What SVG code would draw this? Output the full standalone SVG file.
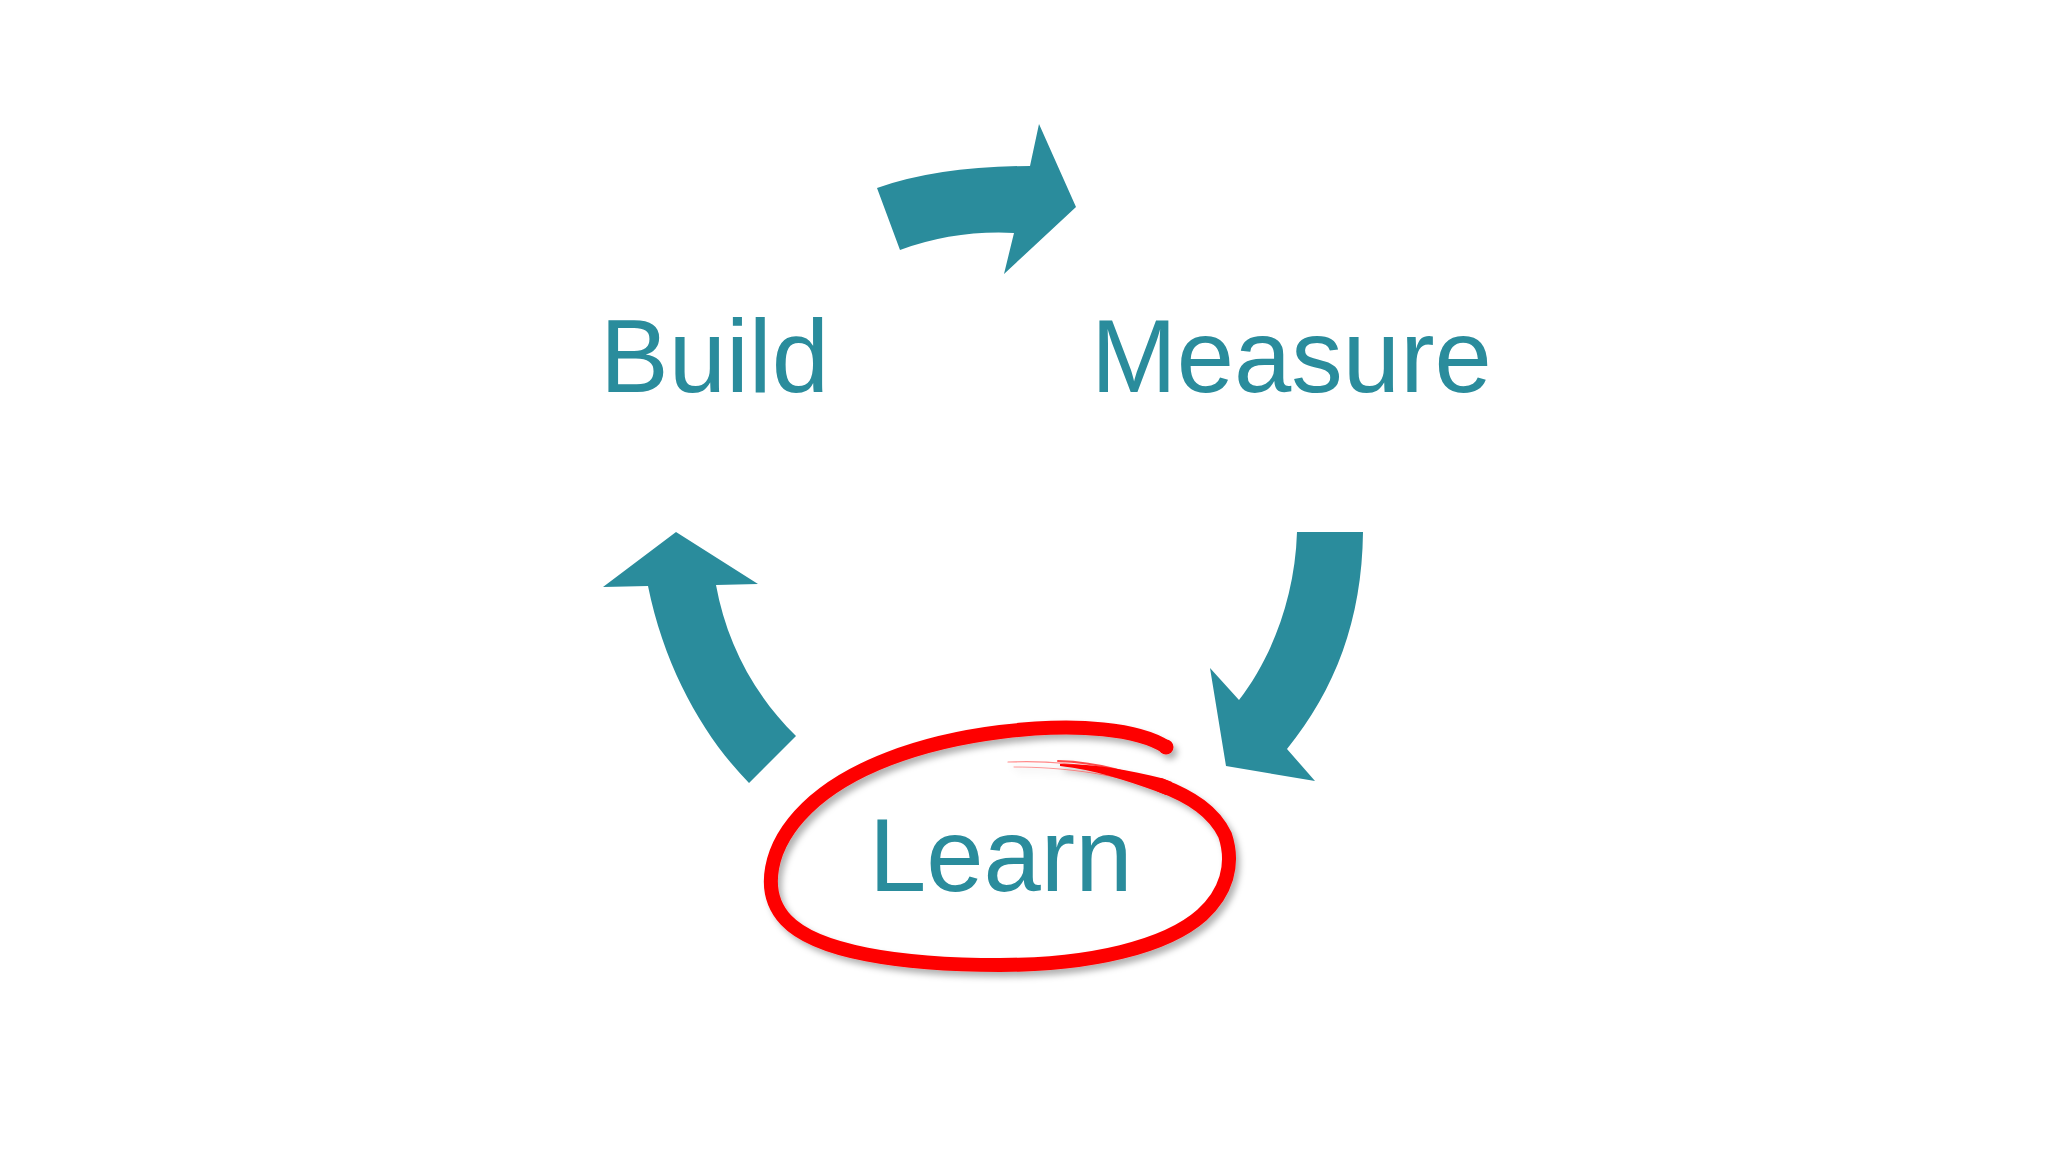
<svg xmlns="http://www.w3.org/2000/svg" width="2048" height="1152" viewBox="0 0 2048 1152">
  <style>
    .label { font-family: "Liberation Sans", Arial, sans-serif; font-size: 103px; fill: #2A8C9C; }
    .arrow { fill: #2A8C9C; stroke: none; }
    .ring { fill: none; stroke: #FE0202; stroke-linecap: round; stroke-linejoin: round; }
    .ink { fill: #FE0202; stroke: none; }
  </style>
  <defs>
    <filter id="shadow" x="-10%" y="-10%" width="120%" height="130%">
      <feDropShadow dx="4" dy="5" stdDeviation="3" flood-color="#000000" flood-opacity="0.3"/>
    </filter>
  </defs>
  <rect width="2048" height="1152" fill="#FFFFFF"/>

  <g id="connectors">
    <path id="arrow-build-measure" class="arrow" d="M 877,188 Q 940,166 1030,166 L 1039,124 L 1076,207 L 1004,274 L 1014,233 Q 955,230 900,250 Z"/>
    <path id="arrow-measure-learn" class="arrow" d="M 1297,532 L 1363,532 C 1362,620 1335,690 1287,749 L 1315,781 L 1226,766 L 1210,668 L 1239,700 C 1270,660 1295,600 1297,532 Z"/>
    <path id="arrow-learn-build" class="arrow" d="M 676,532 L 758,584 L 716,585 C 726,640 752,693 796,736 L 749,783 C 705,738 665,670 648,586 L 603,587 Z"/>
  </g>

  <g id="node-build">
    <text class="label" x="600" y="392">Build</text>
  </g>

  <g id="node-measure">
    <text class="label" x="1091" y="392">Measure</text>
  </g>

  <g id="node-learn">
    <g id="learn-highlight" filter="url(#shadow)">
      <path class="ring" stroke-width="1.2" stroke-opacity="0.45" d="M 1008,762 C 1050,760 1100,765 1150,782"/>
      <path class="ring" stroke-width="1" stroke-opacity="0.4" d="M 1014,767 C 1060,767 1110,773 1156,788"/>
      <path class="ring" stroke-width="2" stroke-opacity="0.7" d="M 1058,761 C 1095,762 1130,770 1170,790"/>
      <path class="ink" d="M 1060,764 C 1095,764 1130,770 1163,778.5 L 1172,782 L 1166,795 L 1157,791.5 C 1125,780 1095,770 1060,766 Z"/>
      <path class="ring" stroke-width="14" stroke-linecap="butt" d="M 1160,785 C 1192,797 1214,812 1225,835 C 1235,865 1226,893 1202,915 C 1166,947 1090,965 1000,965 C 900,965 816,952 786,920 C 760,892 768,846 807,808 C 848,768 920,742 1000,732 C 1080,722 1140,730 1166,747"/>
      <circle class="ink" cx="1166" cy="747" r="7.5"/>
    </g>
    <text class="label" x="869" y="891">Learn</text>
  </g>
</svg>
